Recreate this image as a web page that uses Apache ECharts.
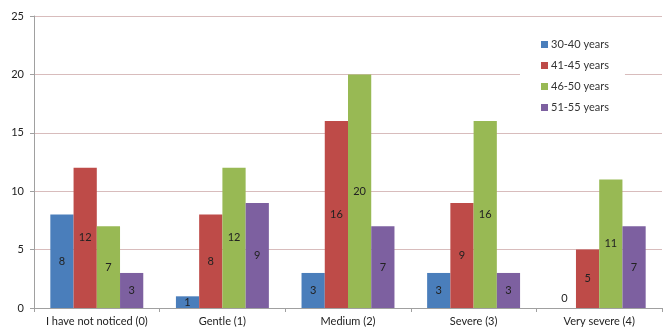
<!DOCTYPE html>
<html>
<head>
<meta charset="utf-8">
<script src="https://cdn.jsdelivr.net/npm/echarts@6/dist/echarts.min.js"></script>
<style>
html,body{margin:0;padding:0;background:#fff;}
#chart{width:664px;height:334px;}
</style>
</head>
<body>
<div id="chart"></div>
<script>
// Severity categories and responses per age group
const categories = ['I have not noticed (0)', 'Gentle (1)', 'Medium (2)', 'Severe (3)', 'Very severe (4)'];
const seriesNames = ['30-40 years', '41-45 years', '46-50 years', '51-55 years'];
const age30to40 = [8, 1, 3, 3, 0];
const age41to45 = [12, 8, 16, 9, 5];
const age46to50 = [7, 12, 20, 16, 11];
const age51to55 = [3, 9, 7, 3, 7];
const yTicks = [0, 5, 10, 15, 20, 25];

const colors = ['#4a7ebb', '#be4b48', '#98b954', '#7d60a0'];
const values = [age30to40, age41to45, age46to50, age51to55];
const fontFamily = 'Lato, "Open Sans", sans-serif';

const chart = echarts.init(document.getElementById('chart'));
chart.setOption({
  animation: false,
  textStyle: { fontFamily: fontFamily },
  grid: { left: 34, right: 2, top: 16, bottom: 26 },
  legend: {
    orient: 'vertical',
    left: 520,
    top: 37,
    itemWidth: 7,
    itemHeight: 7,
    itemGap: 10,
    icon: 'rect',
    backgroundColor: '#fff',
    padding: [2, 16, 2, 21],
    textStyle: { fontSize: 11, color: '#333', fontFamily: fontFamily, padding: [0, 0, 0, -2] },
    data: seriesNames
  },
  xAxis: {
    type: 'category',
    data: categories,
    axisLine: { lineStyle: { color: '#a0a0a0' } },
    axisTick: { show: true, alignWithLabel: false, length: 4, lineStyle: { color: '#a0a0a0' } },
    axisLabel: { fontSize: 11, color: '#222', margin: 8, interval: 0 }
  },
  yAxis: {
    type: 'value',
    min: yTicks[0],
    max: yTicks[yTicks.length - 1],
    interval: 5,
    axisLine: { show: true, lineStyle: { color: '#a0a0a0' } },
    axisTick: { show: true, length: 4, lineStyle: { color: '#a0a0a0' } },
    axisLabel: { fontSize: 11, color: '#222', margin: 10 },
    splitLine: { lineStyle: { color: '#d8bcbc' } }
  },
  series: seriesNames.map((name, i) => ({
    name: name,
    type: 'bar',
    data: values[i].map(v => ({
      value: v,
      label: v === 0 ? { position: 'top', distance: 4 } : undefined
    })),
    barGap: '0%',
    barCategoryGap: '26%',
    itemStyle: { color: colors[i] },
    label: {
      show: true,
      position: 'inside',
      fontSize: 11,
      color: '#222',
      fontFamily: fontFamily
    }
  }))
});
</script>
</body>
</html>
